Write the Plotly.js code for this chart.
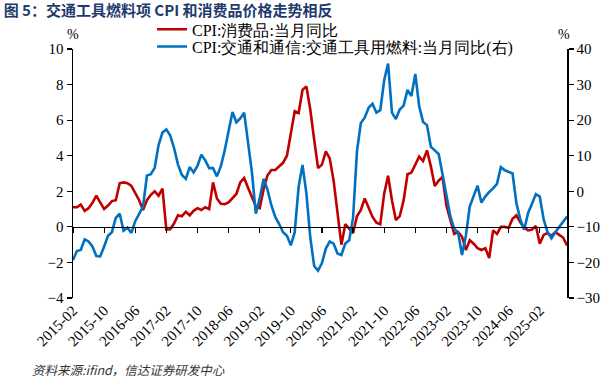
<!DOCTYPE html>
<html><head><meta charset="utf-8">
<script src="https://cdn.plot.ly/plotly-3.0.1.min.js"></script>
<style>html,body{margin:0;padding:0;background:#fff;}#chart{width:613px;height:388px;}</style>
</head><body><div id="chart"></div>
<script>
// Monthly categories 2015-02 .. 2025-09
var months = [];
for (var i = 0; i < 128; i++) {
  var y = 2015 + Math.floor((1 + i) / 12), m = ((1 + i) % 12) + 1;
  months.push(y + '-' + (m < 10 ? '0' + m : '' + m));
}
var tickLabels = ['2015-02','2015-10','2016-06','2017-02','2017-10','2018-06','2019-02','2019-10',
  '2020-06','2021-02','2021-10','2022-06','2023-02','2023-10','2024-06','2025-02'];

// CPI:消费品:当月同比 (left axis, %)
var goodsCPI = [
  1.1,1.1,1.25,0.9,1.05,1.35,1.75,1.4,1.0,1.2,1.45,
  1.5,2.45,2.5,2.45,2.3,1.9,1.5,0.95,1.5,1.8,2.0,1.75,
  2.15,-0.15,-0.13,0.2,0.65,0.6,0.85,0.65,0.9,1.05,0.95,1.1,
  1.0,2.5,1.6,1.3,1.28,1.38,1.6,1.85,2.5,2.75,2.2,1.65,
  1.15,1.05,2.1,2.9,3.2,3.2,3.4,3.6,4.0,5.3,6.5,6.4,
  7.7,7.9,6.6,4.9,3.3,3.5,4.25,3.85,2.6,0.8,-1.0,0.15,
  -0.13,-0.35,0.6,0.95,1.6,1.05,0.56,0.24,0.15,1.87,2.87,1.5,
  0.38,0.6,1.5,2.96,3.05,3.5,3.95,3.7,4.3,3.4,2.3,2.6,
  2.8,1.2,0.45,-0.4,-0.3,-0.55,-1.3,-0.75,-0.95,-1.2,-1.3,-1.2,
  -1.75,-0.2,-0.4,0.0,0.0,-0.05,0.45,0.65,0.25,-0.05,-0.2,-0.15,
  0.05,-0.95,-0.45,-0.35,-0.5,-0.3,-0.45,-0.6,-1.05
];
// CPI:交通和通信:交通工具用燃料:当月同比 (right axis, %)
var fuelCPI = [
  -19.3,-16.8,-16.5,-13.5,-14.1,-15.5,-18.2,-18.3,-15.5,-12.5,-11.5,
  -7.5,-6.3,-11.1,-10.2,-11.7,-8.4,-6.5,-4.3,4.4,4.8,6.6,13,
  16.5,17.4,15.7,12.1,7.5,4.6,3.5,6.8,5.3,7.1,10.3,8.7,
  6.5,6.5,4.2,7,11.5,16.5,22.3,19.4,20.5,22.1,13.5,5.3,
  -6.3,-2,3.5,0.5,-4,-7.2,-9.2,-11.5,-12.5,-15.2,-11.5,1.2,
  7.4,-0.6,-13,-21,-22.3,-20.2,-16.1,-14.1,-14.7,-17.5,-17.9,-14.7,
  -13.8,-7.5,11.2,19.2,20.7,23.5,24.6,22.1,22.8,31.2,35.9,22.1,
  20.3,23,24.1,28.5,26.8,33,23.9,19.5,18.6,12.5,11.5,10.5,
  4.8,-0.6,-7,-10.6,-11.5,-17.9,-12.5,-4.3,-1.1,1.6,-3.2,-1.5,
  -0.2,0.8,2.1,6.8,5.9,5.5,5,-3.4,-7.9,-10.8,-6.1,-3.5,
  -0.8,-1.5,-7.9,-11.5,-13.2,-11.5,-10,-8.5,-7.1
];
var leftTicks = [-4,-2,0,2,4,6,8,10];
var rightTicks = [-30,-20,-10,0,10,20,30,40];
var tickIdx = tickLabels.map(function(t){ return months.indexOf(t); });

var serif = 'Liberation Serif, Times New Roman, serif';
var cjk = 'Noto Sans CJK SC, sans-serif';

var traces = [
  {x: months, y: goodsCPI, type: 'scatter', mode: 'lines', name: 'CPI:消费品:当月同比',
   line: {color: '#C00000', width: 2.6}, xaxis: 'x', yaxis: 'y', legend: 'legend'},
  {x: months, y: fuelCPI, type: 'scatter', mode: 'lines', name: 'CPI:交通和通信:交通工具用燃料:当月同比(右)',
   line: {color: '#0070C0', width: 2.6}, xaxis: 'x', yaxis: 'y2', legend: 'legend2'},
  {x: [], y: [], type: 'scatter', mode: 'lines', xaxis: 'x2', yaxis: 'y', showlegend: false, hoverinfo: 'skip'}
];

var layout = {
  width: 613, height: 388,
  margin: {l: 73, r: 46, t: 41, b: 90},
  paper_bgcolor: '#fff', plot_bgcolor: 'rgba(0,0,0,0)',
  showlegend: true,
  title: {text: '<b>图 5：交通工具燃料项 CPI 和消费品价格走势相反</b>', xref: 'container', yref: 'container',
          x: 0.006, xanchor: 'left', y: 1 - 11/388, yanchor: 'middle',
          font: {family: cjk, size: 15, color: '#1F3A6E'}},
  xaxis: {type: 'category', range: [0, months.length - 1], tickvals: tickLabels, ticktext: tickLabels,
          tickangle: -45, ticks: '', showline: false, showgrid: false, zeroline: false,
          tickfont: {family: serif, size: 15, color: '#000'}},
  xaxis2: {overlaying: 'x', anchor: 'free', position: 4/14, type: 'linear', range: [0, months.length - 1],
           tickvals: tickIdx, ticks: 'outside', ticklen: 5, tickwidth: 1.2, tickcolor: '#000',
           showline: true, linecolor: '#000', linewidth: 1.5, showticklabels: false,
           showgrid: false, zeroline: false, side: 'bottom'},
  yaxis: {range: [-4, 10], tickvals: leftTicks, ticks: 'outside', ticklen: 5, tickwidth: 1.2, tickcolor: '#000',
          showline: true, linecolor: '#000', linewidth: 1.5, showgrid: false, zeroline: false,
          tickfont: {family: serif, size: 15, color: '#000'}},
  yaxis2: {range: [-30, 40], tickvals: rightTicks, overlaying: 'y', side: 'right', ticks: 'outside', ticklen: 5,
           tickwidth: 1.2, tickcolor: '#000', showline: true, linecolor: '#000', linewidth: 1.5,
           showgrid: false, zeroline: false, tickfont: {family: serif, size: 15, color: '#000'}},
  legend: {x: 0.16, y: 1.147, xanchor: 'left', yanchor: 'top', bgcolor: 'rgba(0,0,0,0)', borderwidth: 0,
           font: {family: serif, size: 16, color: '#000'}},
  legend2: {x: 0.16, y: 1.078, xanchor: 'left', yanchor: 'top', bgcolor: 'rgba(0,0,0,0)', borderwidth: 0,
           font: {family: serif, size: 16, color: '#000'}},
  annotations: [
    {text: '%', xref: 'paper', yref: 'paper', x: 0, y: 1.06, xanchor: 'center', yanchor: 'middle', showarrow: false,
     font: {family: serif, size: 14, color: '#000'}},
    {text: '%', xref: 'paper', yref: 'paper', x: 0.993, y: 1.06, xanchor: 'center', yanchor: 'middle', showarrow: false,
     font: {family: serif, size: 14, color: '#000'}},
    {text: '<i>资料来源:ifind，信达证券研发中心</i>', xref: 'paper', yref: 'paper', x: -0.087, y: -0.288,
     xanchor: 'left', yanchor: 'middle', showarrow: false, font: {family: cjk, size: 12.5, color: '#333'}}
  ]
};
Plotly.newPlot('chart', traces, layout, {staticPlot: true, displayModeBar: false});
</script></body></html>
